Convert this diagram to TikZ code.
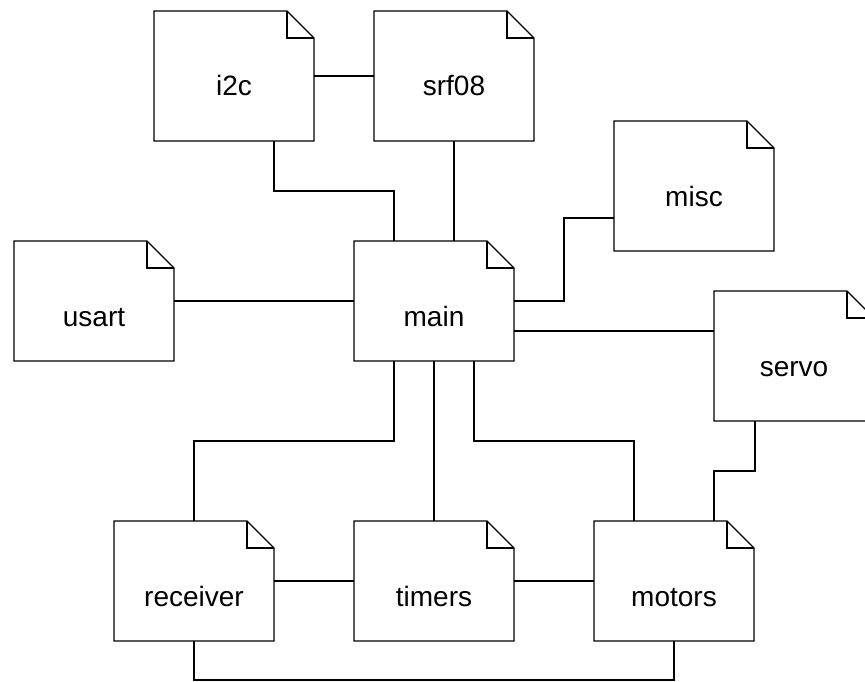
\documentclass[tikz,border=0pt]{standalone}
\usepackage{fontspec}
\setmainfont{Liberation Sans}
\tikzset{
  wire/.style={line width=1.1pt, black},
  notedraw/.style={line width=1.1pt, black, line join=miter},
  basenote/.style={minimum width=160pt, inner sep=0pt, outer sep=0pt,
    anchor=north west, text height=85pt, font=\fontsize{28}{32}\selectfont},
  tallnote/.style={basenote, minimum height=130pt, text depth=45pt},
  shortnote/.style={basenote, minimum height=120pt, text depth=35pt}
}
\begin{document}
\begin{tikzpicture}[x=1pt,y=-1pt]
  \fill[white] (0,0) rectangle (865,682);
  \path[use as bounding box] (0,0) rectangle (865,682);
  \clip (0,0) rectangle (865,682);

  % modules
  \node[tallnote]  (i2c)      at (154,11)  {i2c};
  \node[tallnote]  (srf08)    at (374,11)  {srf08};
  \node[tallnote]  (misc)     at (614,121) {misc};
  \node[shortnote] (usart)    at (14,241)  {usart};
  \node[shortnote] (main)     at (354,241) {main};
  \node[tallnote]  (servo)    at (714,291) {servo};
  \node[shortnote] (receiver) at (114,521) {receiver};
  \node[shortnote] (timers)   at (354,521) {timers};
  \node[shortnote] (motors)   at (594,521) {motors};

  % note outlines with folded corner
  \foreach \n in {i2c,srf08,misc,usart,main,servo,receiver,timers,motors}{
    \draw[notedraw] (\n.north west) -- ([xshift=-27pt]\n.north east)
      -- ([yshift=-27pt]\n.north east) -- (\n.south east)
      -- (\n.south west) -- cycle;
    \draw[notedraw] ([xshift=-27pt]\n.north east) |- ([yshift=-27pt]\n.north east);
  }

  % dependencies
  \draw[wire] (i2c.east) -- (srf08.west);
  \draw[wire] ([xshift=40pt]i2c.south) -- ++(0,50) -| ([xshift=-40pt]main.north);
  \draw[wire] (srf08.south) -- (srf08.south |- main.north);
  \draw[wire] (usart.east) -- (main.west);
  \draw[wire] (main.east) -- ++(50,0) |- ([yshift=-32pt]misc.west);
  \draw[wire] ([yshift=-30pt]main.east) -- ([yshift=-30pt]main.east -| servo.west);
  \draw[wire] ([xshift=-40pt]main.south) -- ++(0,80) -| (receiver.north);
  \draw[wire] (main.south) -- (timers.north);
  \draw[wire] ([xshift=40pt]main.south) -- ++(0,80) -| ([xshift=-40pt]motors.north);
  \draw[wire] (receiver.east) -- (timers.west);
  \draw[wire] (timers.east) -- (motors.west);
  \draw[wire] (receiver.south) -- ++(0,39) -| (motors.south);
  \draw[wire] ([xshift=-39pt]servo.south) -- ++(0,50) -| ([xshift=40pt]motors.north);
\end{tikzpicture}
\end{document}
